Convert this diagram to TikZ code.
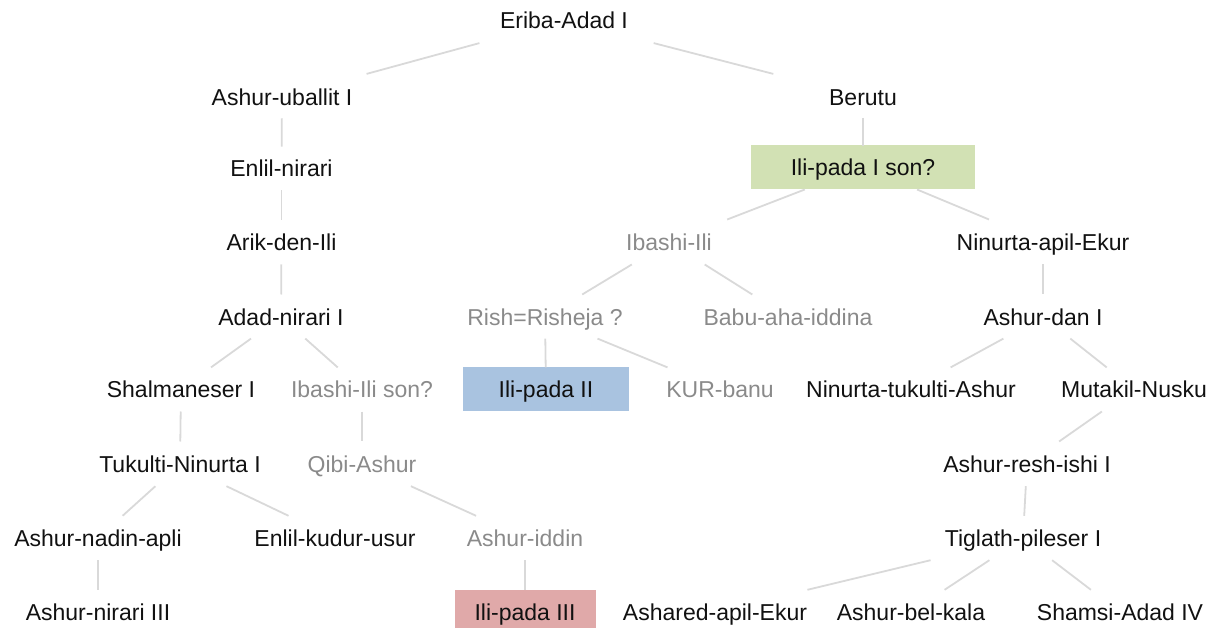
\documentclass[tikz,border=0pt]{standalone}
\usepackage{fontspec}
\setmainfont{Liberation Sans}
\usetikzlibrary{calc}
\definecolor{edgegray}{HTML}{D9D9D9}
\definecolor{namegray}{HTML}{8A8A8A}
\definecolor{namedark}{HTML}{111111}
\definecolor{boxgreen}{HTML}{D2E1B4}
\definecolor{boxblue}{HTML}{A9C3E0}
\definecolor{boxpink}{HTML}{E0A9A9}
\tikzset{
  x=1pt, y=-1pt,
  king/.style={font=\fontsize{23}{27}\selectfont, text=namedark,
    text height=16.5pt, text depth=0pt, inner sep=0pt, anchor=center},
  uncertain/.style={king, text=namegray},
  tagbox/.style={king, minimum height=44pt},
  link/.style={draw=edgegray, line width=1.8pt}
}
% connector drawn over the middle 40% of the line between two names
\newcommand{\kinlink}[2]{\draw[link] ($(#1)!0.3!(#2)$) -- ($(#1)!0.7!(#2)$);}
\begin{document}
\begin{tikzpicture}
\useasboundingbox (0,0) rectangle (1211,628);

% row 1
\node[king] (eriba) at (564,20) {Eriba-Adad I};
% row 2
\node[king] (uballit) at (282,97) {Ashur-uballit I};
\node[king] (berutu) at (863,97) {Berutu};
% row 3
\node[king] (enlilnirari) at (281.5,168) {Enlil-nirari};
\node[tagbox, fill=boxgreen, minimum width=224pt] (ilipada1) at (863,167) {Ili-pada I son?};
% row 4
\node[king] (arik) at (281.5,242) {Arik-den-Ili};
\node[uncertain] (ibashi) at (669,242) {Ibashi-Ili};
\node[king] (ninurtaapil) at (1043,242) {Ninurta-apil-Ekur};
% row 5
\node[king] (adadnirari) at (281,317) {Adad-nirari I};
\node[uncertain] (rish) at (545,317) {Rish=Risheja ?};
\node[uncertain] (babu) at (788,317) {Babu-aha-iddina};
\node[king] (ashurdan) at (1043,317) {Ashur-dan I};
% row 6
\node[king] (shalmaneser) at (181,389) {Shalmaneser I};
\node[uncertain] (ibashison) at (362,389) {Ibashi-Ili son?};
\node[tagbox, fill=boxblue, minimum width=166pt] (ilipada2) at (546,389) {Ili-pada II};
\node[uncertain] (kurbanu) at (720,389) {KUR-banu};
\node[king] (ntashur) at (911,389) {Ninurta-tukulti-Ashur};
\node[king] (mutakil) at (1134,389) {Mutakil-Nusku};
% row 7
\node[king] (tukulti) at (180,464) {Tukulti-Ninurta I};
\node[uncertain] (qibi) at (362,464) {Qibi-Ashur};
\node[king] (reshishi) at (1027,464) {Ashur-resh-ishi I};
% row 8
\node[king] (nadinapli) at (98,538) {Ashur-nadin-apli};
\node[king] (kudurusur) at (335,538) {Enlil-kudur-usur};
\node[uncertain] (iddin) at (525,538) {Ashur-iddin};
\node[king] (tiglath) at (1023,538) {Tiglath-pileser I};
% row 9
\node[king] (nirari3) at (98,612) {Ashur-nirari III};
\node[tagbox, fill=boxpink, minimum width=141pt] (ilipada3) at (525,612) {Ili-pada III};
\node[king] (ashared) at (715,612) {Ashared-apil-Ekur};
\node[king] (belkala) at (911,612) {Ashur-bel-kala};
\node[king] (shamsi) at (1120,612) {Shamsi-Adad IV};

% lines of descent
\kinlink{eriba}{uballit}
\kinlink{eriba}{berutu}
\kinlink{uballit}{enlilnirari}
\kinlink{enlilnirari}{arik}
\kinlink{arik}{adadnirari}
\kinlink{adadnirari}{shalmaneser}
\kinlink{adadnirari}{ibashison}
\kinlink{shalmaneser}{tukulti}
\kinlink{ibashison}{qibi}
\kinlink{tukulti}{nadinapli}
\kinlink{tukulti}{kudurusur}
\kinlink{qibi}{iddin}
\kinlink{nadinapli}{nirari3}
\kinlink{iddin}{ilipada3}
\kinlink{berutu}{ilipada1}
\kinlink{ilipada1}{ibashi}
\kinlink{ilipada1}{ninurtaapil}
\kinlink{ibashi}{rish}
\kinlink{ibashi}{babu}
\kinlink{rish}{ilipada2}
\kinlink{rish}{kurbanu}
\kinlink{ninurtaapil}{ashurdan}
\kinlink{ashurdan}{ntashur}
\kinlink{ashurdan}{mutakil}
\kinlink{mutakil}{reshishi}
\kinlink{reshishi}{tiglath}
\kinlink{tiglath}{ashared}
\kinlink{tiglath}{belkala}
\kinlink{tiglath}{shamsi}
\end{tikzpicture}
\end{document}
